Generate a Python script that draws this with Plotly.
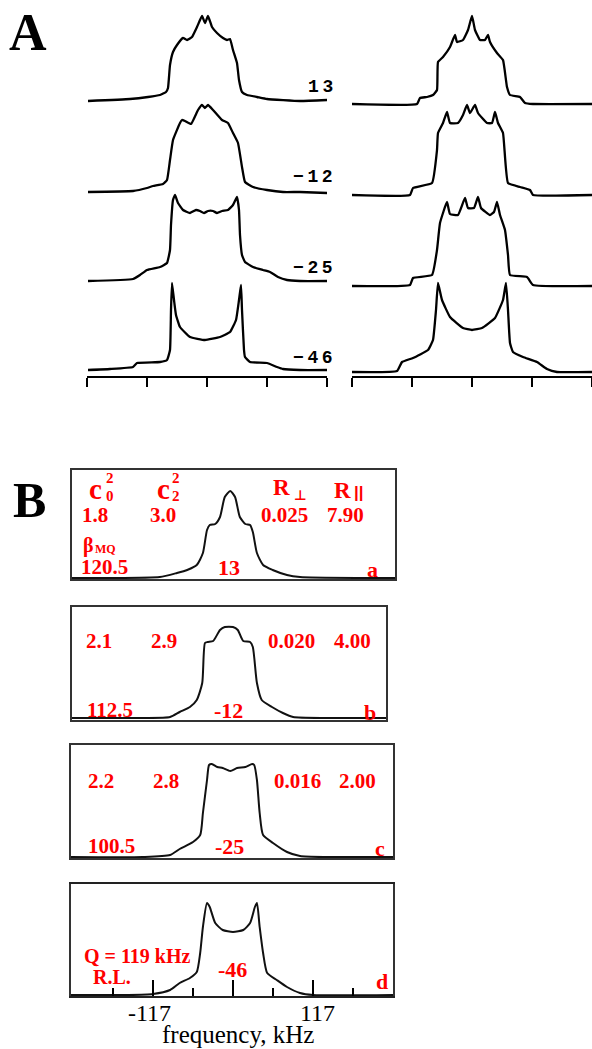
import plotly.graph_objects as go

W, H = 592, 1049


def fx(x):
    return x / W


def fy(y):
    return 1 - y / H


# ---------------- data ----------------
temps = ["13", "\u221212", "\u221225", "\u221246"]
temps_b = ["13", "-12", "-25", "-46"]
letters = ["a", "b", "c", "d"]
c0_vals = ["1.8", "2.1", "2.2"]
c2_vals = ["3.0", "2.9", "2.8"]
rperp_vals = ["0.025", "0.020", "0.016"]
rpar_vals = ["7.90", "4.00", "2.00"]
beta_vals = ["120.5", "112.5", "100.5"]
b_ticks = [-117, 0, 117]
b_ticktext = ["-117", "117"]
b_minor = [-175.5, -58.5, 58.5, 175.5]
a_ticks = [-120, -60, 0, 60, 120]

# Panel A, left column (experimental), x in a.u., y = intensity a.u.
AL1_x = [-119, -77, -59, -47, -41, -39, -37, -34, -30, -24, -20, -15, -10, -5, -2, 1, 5, 10, 16, 20, 23, 26, 30, 32, 35, 40, 50, 60, 93, 120]
AL1_y = [-1, 1, 3, 5, 8, 12, 35, 48, 55, 62, 60, 63, 73, 84, 77, 84, 73, 67, 62, 60, 61, 50, 37, 20, 8, 5, 3, 1, -1, 0]
AL2_x = [-119, -74, -60, -54, -44, -40, -37, -34, -27, -25, -22, -16, -9, -5, -2, 1, 6, 15, 21, 26, 31, 35, 38, 46, 60, 76, 93, 120]
AL2_y = [0, 1, 4, 6, 8, 12, 32, 52, 69, 72, 71, 68, 82, 87, 84, 87, 82, 72, 69, 59, 49, 25, 10, 5, 2, 0, 0, -1]
AL3_x = [-119, -74, -67, -60, -47, -40, -37, -36, -34, -32, -29, -24, -17, -11, -7, -3, 1, 6, 10, 15, 21, 26, 30, 32, 33, 35, 38, 46, 56, 63, 71, 80, 93, 120]
AL3_y = [0, 2, 6, 11, 14, 18, 31, 56, 81, 86, 78, 71, 68, 71, 70, 68, 70, 70, 68, 70, 71, 76, 84, 71, 46, 26, 19, 14, 11, 9, 4, 1, 0, 0]
AL4_x = [-119, -97, -74, -70, -47, -40, -37, -36, -35, -33, -31, -27, -17, -2, 13, 23, 29, 32, 34, 35, 37, 38, 43, 60, 70, 76, 93, 120]
AL4_y = [0, 1, 3, 7, 8, 10, 20, 60, 87, 70, 55, 43, 33, 30, 33, 38, 50, 70, 85, 60, 20, 13, 8, 7, 3, 1, 0, 0]

# Panel A, right column (simulated)
AR1_x = [-120, -55, -52, -45, -39, -35, -34, -29, -22, -17, -15, -9, -4, 0, 3, 8, 13, 16, 18, 25, 31, 35, 38, 48, 53, 61, 120]
AR1_y = [0, 0, 6, 7, 9, 14, 42, 47, 57, 69, 62, 64, 74, 88, 74, 64, 64, 69, 62, 51, 44, 17, 9, 7, 1, 0, 0]
AR2_x = [-120, -62, -59, -40, -35, -34, -29, -25, -22, -14, -9, -5, -2, 3, 6, 15, 20, 23, 26, 31, 36, 48, 58, 61, 120]
AR2_y = [0, 0, 7, 12, 45, 62, 72, 83, 72, 72, 80, 90, 82, 90, 82, 72, 72, 83, 72, 62, 12, 8, 5, 0, 0]
AR3_x = [-120, -62, -59, -40, -35, -32, -25, -22, -14, -7, -4, 2, 6, 9, 18, 22, 25, 28, 33, 36, 38, 55, 61, 120]
AR3_y = [0, 1, 8, 11, 36, 63, 84, 72, 71, 88, 78, 78, 89, 78, 71, 74, 84, 71, 56, 31, 11, 9, 1, 0]
AR4_x = [-120, -75, -70, -59, -44, -39, -36, -34, -30, -22, -9, 0, 10, 23, 31, 34, 36, 38, 41, 51, 65, 75, 85, 120]
AR4_y = [0, 1, 10, 14, 22, 32, 62, 89, 72, 55, 44, 42, 44, 54, 72, 89, 62, 29, 20, 15, 10, 3, 0, 0]

# Panel B, frequency in kHz, intensity a.u.
Ba_x = [-235.5, -184, -107, -82, -67, -53, -44, -38, -34, -26, -19, -12, -4, 3, 10, 18, 25, 29, 35, 44, 58, 79, 98, 186, 237]
Ba_y = [-1, -1, 0, 4, 7, 12, 24, 47, 52, 53, 60, 80, 86, 80, 60, 53, 52, 45, 24, 12, 7, 2, 0, -1, -1]
Bb_x = [-235.5, -132, -92, -78, -63, -53, -45, -41, -37, -29, -19, -12, 0, 7, 15, 25, 29, 35, 42, 57, 73, 88, 137, 224]
Bb_y = [0, 0, 1, 6, 11, 18, 35, 75, 76, 77, 88, 91, 91, 88, 77, 76, 71, 35, 18, 11, 5, 1, 0, 0]
Bc_x = [-237, -132, -92, -78, -58.5, -48, -44, -38, -35, -31, -23, -15, -4, 6, 18, 28, 31, 35, 39, 44, 58.5, 79, 98, 137, 234]
Bc_y = [-1, -1, 1, 7, 14, 21, 43, 76, 91, 92, 89, 88, 85, 88, 89, 92, 91, 76, 43, 21, 13, 4, 0, -1, -1]
Bd_x = [-237, -155, -117, -92, -78, -63, -53, -48, -44, -38, -34, -26, -15, 0, 15, 25, 32, 35, 39, 44, 50, 64, 79, 98, 117, 234]
Bd_y = [0, 0, 1, 5, 12, 17, 23, 42, 68, 92, 88, 72, 65, 63, 65, 72, 88, 92, 68, 42, 22, 15, 8, 2, 0, 0]

# ---------------- layout geometry (pixels) ----------------
AL_base = [100, 192, 281, 370]
AR_base = [104, 195, 286, 372]
A_axis_y = 377
B_boxes = [  # left, right, top, bottom, baseline
    (72, 395, 470, 579, 577),
    (72, 386, 607, 720, 718),
    (71, 393, 745, 858, 856),
    (71, 393, 884, 996, 995),
]
KHZ_PER_PX = 117 / 80.0
B_CENTER_PX = 233

fig = go.Figure()
layout = dict(
    width=W, height=H, margin=dict(l=0, r=0, t=0, b=0),
    paper_bgcolor="white", plot_bgcolor="rgba(0,0,0,0)", showlegend=False,
)

ax_common = dict(showgrid=False, zeroline=False, fixedrange=True)

# Panel A x axes
for key, dom in [("xaxis", [fx(87), fx(327)]), ("xaxis2", [fx(352), 1.0])]:
    layout[key] = dict(ax_common, domain=dom, range=[-120, 120], anchor="free",
                       position=fy(A_axis_y), showline=True, linewidth=2, linecolor="black",
                       tickmode="array", tickvals=a_ticks, ticks="outside", ticklen=9, tickwidth=2,
                       tickcolor="black", showticklabels=False)

A_left = [(AL1_x, AL1_y), (AL2_x, AL2_y), (AL3_x, AL3_y), (AL4_x, AL4_y)]
A_right = [(AR1_x, AR1_y), (AR2_x, AR2_y), (AR3_x, AR3_y), (AR4_x, AR4_y)]

yi = 1
for data, bases, xa in [(A_left, AL_base, "x"), (A_right, AR_base, "x2")]:
    for (xs, ys), base in zip(data, bases):
        key = "yaxis" if yi == 1 else f"yaxis{yi}"
        layout[key] = dict(ax_common, domain=[fy(base + 7), fy(base - 93)], range=[-7, 93],
                           visible=False, anchor=xa)
        fig.add_trace(go.Scatter(x=xs, y=ys, mode="lines", xaxis=xa,
                                 yaxis="y" if yi == 1 else f"y{yi}",
                                 line=dict(color="black", width=2.3, shape="spline", smoothing=0.35),
                                 cliponaxis=False, hoverinfo="skip"))
        yi += 1

# Panel B boxes
B_data = [(Ba_x, Ba_y), (Bb_x, Bb_y), (Bc_x, Bc_y), (Bd_x, Bd_y)]
for k, ((xs, ys), (l, r, t, b, base)) in enumerate(zip(B_data, B_boxes)):
    xn = 3 + k
    yn = yi + k
    xr = [(l - B_CENTER_PX) * KHZ_PER_PX, (r - B_CENTER_PX) * KHZ_PER_PX]
    xcfg = dict(ax_common, domain=[fx(l), fx(r)], range=xr, anchor=f"y{yn}", showline=True,
                mirror=True, linewidth=1.5, linecolor="#333", showticklabels=False, ticks="")
    if k == 3:
        xcfg.update(linewidth=2, linecolor="#222", tickmode="array", tickvals=b_ticks,
                    ticks="inside", ticklen=16, tickwidth=1.6, tickcolor="black",
                    showticklabels=False,
                    minor=dict(tickvals=b_minor, ticks="inside", ticklen=8, tickwidth=1.5,
                               tickcolor="black"))
    layout[f"xaxis{xn}"] = xcfg
    layout[f"yaxis{yn}"] = dict(ax_common, domain=[fy(b), fy(t)], range=[base - b, base - t],
                                anchor=f"x{xn}", showline=True, mirror=True, linewidth=1.5,
                                linecolor="#333", showticklabels=False, ticks="")
    fig.add_trace(go.Scatter(x=xs, y=ys, mode="lines", xaxis=f"x{xn}", yaxis=f"y{yn}",
                             line=dict(color="#111", width=2, shape="spline", smoothing=0.6),
                             hoverinfo="skip"))

# ---------------- annotations ----------------
anns = []


def ann(text, x, y, size, color="#ff0000", family="Liberation Serif", bold=True,
        xanchor="center", yanchor="middle"):
    t = f"<b>{text}</b>" if bold else text
    anns.append(dict(text=t, x=fx(x), y=fy(y), xref="paper", yref="paper", showarrow=False,
                     xanchor=xanchor, yanchor=yanchor, borderpad=0,
                     font=dict(family=family, size=size, color=color)))


ann("A", 28, 33, 52, color="black")
ann("B", 29, 500, 50, color="black")

for lab, yy in zip(temps, [87, 177, 268, 358]):
    spaced = "\u2009".join(lab)
    ann(spaced, 334, yy, 18, color="black", family="Liberation Mono", xanchor="right")

# header of box a
ann("c", 95, 489, 29)
ann("2", 110, 478, 15)
ann("0", 110, 496, 15)
ann("c", 163, 489, 29)
ann("2", 176, 478, 15)
ann("2", 176, 496, 15)
ann("R", 281, 488, 23)
ann("\u22a5", 300, 495, 14, family="DejaVu Sans")
ann("R", 342, 490, 23)
ann("||", 359, 493, 17, family="Liberation Sans")
ann("\u03b2", 88, 545, 20)
ann("MQ", 94, 549, 12, xanchor="left")

row_y = [515, 641, 781]
bot_y = [567, 710, 846]
c0_x = [95, 99, 101]
c2_x = [163, 164, 166]
rp_x = [284, 291, 297]
rl_x = [345, 352, 357]
be_x = [104, 110, 111]
tp_x = [229, 228, 230]
lt_x = [372, 370, 380]
for i in range(3):
    ann(c0_vals[i], c0_x[i], row_y[i], 21)
    ann(c2_vals[i], c2_x[i], row_y[i], 21)
    ann(rperp_vals[i], rp_x[i], row_y[i], 21)
    ann(rpar_vals[i], rl_x[i], row_y[i], 21)
    ann(beta_vals[i], be_x[i], bot_y[i], 21)
    ann(temps_b[i], tp_x[i], bot_y[i], 22)
    ann(letters[i], lt_x[i], bot_y[i] + 2, 22)

ann("Q = 119 kHz", 137, 956, 20)
ann("R.L.", 112, 977, 20)
ann(temps_b[3], 232, 969, 22)
ann(letters[3], 382, 981, 22)

# tick labels of the frequency axis (box d)
for val, txt in zip([b_ticks[0], b_ticks[2]], b_ticktext):
    ann(txt, B_CENTER_PX + val / KHZ_PER_PX + (-4 if val < 0 else 4), 1013, 24,
        color="black", bold=False)
ann("frequency, kHz", 238, 1049, 25, color="black", bold=False, yanchor="bottom")

layout["annotations"] = anns
fig.update_layout(**layout)
fig.write_html("out.html")
